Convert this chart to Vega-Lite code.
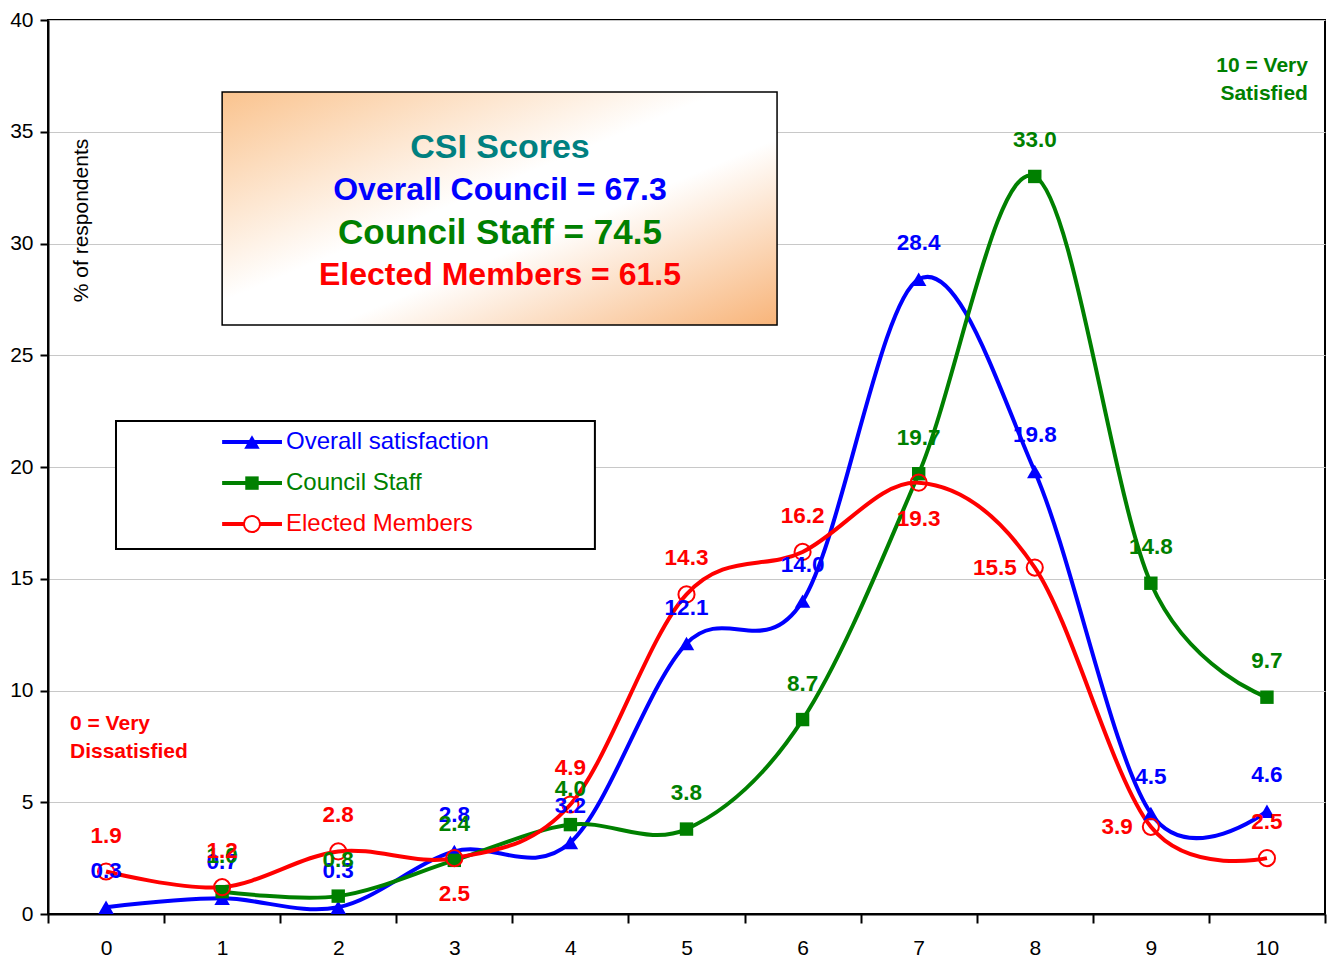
{
  "$schema": "https://vega.github.io/schema/vega-lite/v6.json",
  "width": 1277,
  "height": 894,
  "autosize": {"type": "none"},
  "padding": {"left": 48, "top": 20, "right": 3, "bottom": 44},
  "background": "white",
  "config": {
    "font": "Arial, Liberation Sans, sans-serif",
    "view": {"stroke": "black", "strokeWidth": 2}
  },
  "data": {
    "values": [
      {"score": 0, "series": "Overall satisfaction", "value": 0.3},
      {"score": 1, "series": "Overall satisfaction", "value": 0.7},
      {"score": 2, "series": "Overall satisfaction", "value": 0.3},
      {"score": 3, "series": "Overall satisfaction", "value": 2.8},
      {"score": 4, "series": "Overall satisfaction", "value": 3.2},
      {"score": 5, "series": "Overall satisfaction", "value": 12.1},
      {"score": 6, "series": "Overall satisfaction", "value": 14.0},
      {"score": 7, "series": "Overall satisfaction", "value": 28.4},
      {"score": 8, "series": "Overall satisfaction", "value": 19.8},
      {"score": 9, "series": "Overall satisfaction", "value": 4.5},
      {"score": 10, "series": "Overall satisfaction", "value": 4.6},
      {"score": 1, "series": "Council Staff", "value": 1.0},
      {"score": 2, "series": "Council Staff", "value": 0.8},
      {"score": 3, "series": "Council Staff", "value": 2.4},
      {"score": 4, "series": "Council Staff", "value": 4.0},
      {"score": 5, "series": "Council Staff", "value": 3.8},
      {"score": 6, "series": "Council Staff", "value": 8.7},
      {"score": 7, "series": "Council Staff", "value": 19.7},
      {"score": 8, "series": "Council Staff", "value": 33.0},
      {"score": 9, "series": "Council Staff", "value": 14.8},
      {"score": 10, "series": "Council Staff", "value": 9.7},
      {"score": 0, "series": "Elected Members", "value": 1.9},
      {"score": 1, "series": "Elected Members", "value": 1.2},
      {"score": 2, "series": "Elected Members", "value": 2.8},
      {"score": 3, "series": "Elected Members", "value": 2.5},
      {"score": 4, "series": "Elected Members", "value": 4.9},
      {"score": 5, "series": "Elected Members", "value": 14.3},
      {"score": 6, "series": "Elected Members", "value": 16.2},
      {"score": 7, "series": "Elected Members", "value": 19.3},
      {"score": 8, "series": "Elected Members", "value": 15.5},
      {"score": 9, "series": "Elected Members", "value": 3.9},
      {"score": 10, "series": "Elected Members", "value": 2.5}
    ]
  },
  "layer": [
    {
      "mark": {"type": "line", "interpolate": "cardinal", "strokeWidth": 4},
      "encoding": {
        "x": {
          "field": "score", "type": "quantitative",
          "scale": {"domain": [-0.5, 10.5], "nice": false, "zero": false},
          "axis": {
            "title": null, "grid": false,
            "values": [-0.5, 0, 0.5, 1, 1.5, 2, 2.5, 3, 3.5, 4, 4.5, 5, 5.5, 6, 6.5, 7, 7.5, 8, 8.5, 9, 9.5, 10, 10.5],
            "labelExpr": "datum.value % 1 === 0 ? datum.value : ''",
            "tickOpacity": {"condition": {"test": "datum.value % 1 === 0", "value": 0}, "value": 1},
            "tickSize": 9, "tickWidth": 2, "tickColor": "black",
            "domainColor": "black", "domainWidth": 2,
            "labelFontSize": 21, "labelColor": "black", "labelPadding": 14, "labelFlush": false, "labelOverlap": false
          }
        },
        "y": {
          "field": "value", "type": "quantitative",
          "scale": {"domain": [0, 40], "nice": false, "zero": true},
          "axis": {
            "title": "% of respondents",
            "values": [0, 5, 10, 15, 20, 25, 30, 35, 40],
            "grid": true, "gridColor": "#C8C8C8", "gridWidth": 1,
            "domainColor": "black", "domainWidth": 2,
            "tickColor": "black", "tickWidth": 2, "tickSize": 8,
            "labelFontSize": 21, "labelColor": "black", "labelPadding": 7, "labelFlush": false,
            "titleX": 33, "titleY": 200, "titleAngle": -90, "titleAlign": "center", "titleBaseline": "middle",
            "titleFontSize": 21, "titleFontWeight": "normal", "titleColor": "black"
          }
        },
        "color": {
          "field": "series", "type": "nominal",
          "scale": {"domain": ["Overall satisfaction", "Council Staff", "Elected Members"], "range": ["#0000FF", "#008000", "#FF0000"]},
          "legend": null
        }
      }
    },
    {
      "transform": [{"filter": "datum.series == 'Overall satisfaction'"}],
      "mark": {"type": "point", "shape": "triangle-up", "filled": true, "size": 240, "color": "#0000FF", "opacity": 1},
      "encoding": {"x": {"field": "score", "type": "quantitative"}, "y": {"field": "value", "type": "quantitative"}}
    },
    {
      "transform": [{"filter": "datum.series == 'Council Staff'"}],
      "mark": {"type": "point", "shape": "square", "filled": true, "size": 180, "color": "#008000", "opacity": 1},
      "encoding": {"x": {"field": "score", "type": "quantitative"}, "y": {"field": "value", "type": "quantitative"}}
    },
    {
      "transform": [{"filter": "datum.series == 'Elected Members'"}],
      "mark": {"type": "point", "shape": "circle", "filled": false, "size": 260, "color": "#FF0000", "strokeWidth": 2, "opacity": 1},
      "encoding": {"x": {"field": "score", "type": "quantitative"}, "y": {"field": "value", "type": "quantitative"}}
    },
    {
      "transform": [{"filter": "datum.series != 'Elected Members'"}],
      "mark": {"type": "text", "fontSize": 22.5, "fontWeight": "bold", "dy": -36, "baseline": "middle", "align": "center"},
      "encoding": {
        "x": {"field": "score", "type": "quantitative"},
        "y": {"field": "value", "type": "quantitative"},
        "text": {"field": "value", "type": "quantitative", "format": ".1f"},
        "color": {"field": "series", "type": "nominal", "legend": null}
      }
    },
    {
      "transform": [{"filter": "datum.series == 'Elected Members' && datum.score != 3 && datum.score != 7 && datum.score != 8 && datum.score != 9"}],
      "mark": {"type": "text", "fontSize": 22.5, "fontWeight": "bold", "dy": -36, "baseline": "middle", "align": "center", "color": "#FF0000"},
      "encoding": {
        "x": {"field": "score", "type": "quantitative"},
        "y": {"field": "value", "type": "quantitative"},
        "text": {"field": "value", "type": "quantitative", "format": ".1f"}
      }
    },
    {
      "transform": [{"filter": "datum.series == 'Elected Members' && (datum.score == 3 || datum.score == 7)"}],
      "mark": {"type": "text", "fontSize": 22.5, "fontWeight": "bold", "dy": 36, "baseline": "middle", "align": "center", "color": "#FF0000"},
      "encoding": {
        "x": {"field": "score", "type": "quantitative"},
        "y": {"field": "value", "type": "quantitative"},
        "text": {"field": "value", "type": "quantitative", "format": ".1f"}
      }
    },
    {
      "transform": [{"filter": "datum.series == 'Elected Members' && (datum.score == 8 || datum.score == 9)"}],
      "mark": {"type": "text", "fontSize": 22.5, "fontWeight": "bold", "dx": -18, "baseline": "middle", "align": "right", "color": "#FF0000"},
      "encoding": {
        "x": {"field": "score", "type": "quantitative"},
        "y": {"field": "value", "type": "quantitative"},
        "text": {"field": "value", "type": "quantitative", "format": ".1f"}
      }
    },
    {
      "data": {"values": [{}]},
      "mark": {
        "type": "rect", "stroke": "black", "strokeWidth": 1.5,
        "fill": {"gradient": "linear", "x1": 0, "y1": 0, "x2": 1, "y2": 1,
          "stops": [{"offset": 0, "color": "#FAC38E"}, {"offset": 0.45, "color": "#FFFFFF"}, {"offset": 0.6, "color": "#FFFFFF"}, {"offset": 1, "color": "#F8B479"}]}
      },
      "encoding": {"x": {"datum": 1.0}, "x2": {"datum": 5.78}, "y": {"datum": 36.78}, "y2": {"datum": 26.35}}
    },
    {
      "data": {"values": [{}]},
      "mark": {"type": "text", "text": "CSI Scores", "fontSize": 34, "fontWeight": "bold", "color": "#008080", "align": "center", "baseline": "middle"},
      "encoding": {"x": {"datum": 3.393}, "y": {"datum": 34.27}}
    },
    {
      "data": {"values": [{}]},
      "mark": {"type": "text", "text": "Overall Council = 67.3", "fontSize": 32, "fontWeight": "bold", "color": "#0000FF", "align": "center", "baseline": "middle"},
      "encoding": {"x": {"datum": 3.393}, "y": {"datum": 32.39}}
    },
    {
      "data": {"values": [{}]},
      "mark": {"type": "text", "text": "Council Staff = 74.5", "fontSize": 35, "fontWeight": "bold", "color": "#008000", "align": "center", "baseline": "middle"},
      "encoding": {"x": {"datum": 3.393}, "y": {"datum": 30.47}}
    },
    {
      "data": {"values": [{}]},
      "mark": {"type": "text", "text": "Elected Members = 61.5", "fontSize": 32, "fontWeight": "bold", "color": "#FF0000", "align": "center", "baseline": "middle"},
      "encoding": {"x": {"datum": 3.393}, "y": {"datum": 28.59}}
    },
    {
      "data": {"values": [{}]},
      "mark": {"type": "rect", "fill": "white", "stroke": "black", "strokeWidth": 2},
      "encoding": {"x": {"datum": 0.0857}, "x2": {"datum": 4.211}, "y": {"datum": 22.06}, "y2": {"datum": 16.33}}
    },
    {
      "data": {"values": [{}]},
      "mark": {"type": "rule", "color": "#0000FF", "strokeWidth": 4},
      "encoding": {"x": {"datum": 1.0}, "x2": {"datum": 1.5155}, "y": {"datum": 21.12}}
    },
    {
      "data": {"values": [{}]},
      "mark": {"type": "rule", "color": "#008000", "strokeWidth": 4},
      "encoding": {"x": {"datum": 1.0}, "x2": {"datum": 1.5155}, "y": {"datum": 19.28}}
    },
    {
      "data": {"values": [{}]},
      "mark": {"type": "rule", "color": "#FF0000", "strokeWidth": 4},
      "encoding": {"x": {"datum": 1.0}, "x2": {"datum": 1.5155}, "y": {"datum": 17.45}}
    },
    {
      "data": {"values": [{}]},
      "mark": {"type": "point", "shape": "triangle-up", "filled": true, "size": 240, "color": "#0000FF", "opacity": 1},
      "encoding": {"x": {"datum": 1.257}, "y": {"datum": 21.12}}
    },
    {
      "data": {"values": [{}]},
      "mark": {"type": "point", "shape": "square", "filled": true, "size": 180, "color": "#008000", "opacity": 1},
      "encoding": {"x": {"datum": 1.257}, "y": {"datum": 19.28}}
    },
    {
      "data": {"values": [{}]},
      "mark": {"type": "point", "shape": "circle", "filled": true, "size": 260, "fill": "white", "stroke": "#FF0000", "strokeWidth": 2, "opacity": 1},
      "encoding": {"x": {"datum": 1.257}, "y": {"datum": 17.45}}
    },
    {
      "data": {"values": [{}]},
      "mark": {"type": "text", "text": "Overall satisfaction", "fontSize": 24, "color": "#0000FF", "align": "left", "baseline": "middle"},
      "encoding": {"x": {"datum": 1.55}, "y": {"datum": 21.12}}
    },
    {
      "data": {"values": [{}]},
      "mark": {"type": "text", "text": "Council Staff", "fontSize": 24, "color": "#008000", "align": "left", "baseline": "middle"},
      "encoding": {"x": {"datum": 1.55}, "y": {"datum": 19.28}}
    },
    {
      "data": {"values": [{}]},
      "mark": {"type": "text", "text": "Elected Members", "fontSize": 24, "color": "#FF0000", "align": "left", "baseline": "middle"},
      "encoding": {"x": {"datum": 1.55}, "y": {"datum": 17.45}}
    },
    {
      "data": {"values": [{}]},
      "mark": {"type": "text", "text": ["0 = Very", "Dissatisfied"], "lineHeight": 28, "fontSize": 21, "fontWeight": "bold", "color": "#FF0000", "align": "left", "baseline": "middle"},
      "encoding": {"x": {"datum": -0.3105}, "y": {"datum": 8.5}}
    },
    {
      "data": {"values": [{}]},
      "mark": {"type": "text", "text": ["10 = Very", "Satisfied"], "lineHeight": 28, "fontSize": 21, "fontWeight": "bold", "color": "#008000", "align": "right", "baseline": "middle"},
      "encoding": {"x": {"datum": 10.353}, "y": {"datum": 37.94}}
    }
  ]
}
